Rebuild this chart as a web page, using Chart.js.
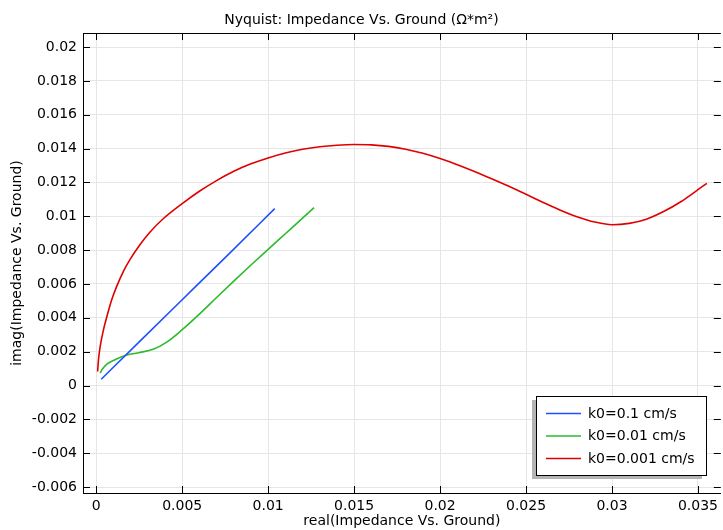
<!DOCTYPE html>
<html>
<head>
<meta charset="utf-8">
<script src="https://cdn.jsdelivr.net/npm/chart.js@4/dist/chart.umd.min.js"></script>
<style>
  html, body { margin: 0; padding: 0; background: #fff; }
  #wrap { width: 723px; height: 530px; position: relative; }
</style>
</head>
<body>
<div id="wrap"><canvas id="c" width="723" height="530"></canvas></div>
<script>
// ---- data ----
const titleText = "Nyquist: Impedance Vs. Ground (Ω*m²)";
const xAxisTitle = "real(Impedance Vs. Ground)";
const yAxisTitle = "imag(Impedance Vs. Ground)";
const seriesLabels = ["k0=0.1 cm/s", "k0=0.01 cm/s", "k0=0.001 cm/s"];

const xTicks = [0, 0.005, 0.01, 0.015, 0.02, 0.025, 0.03, 0.035];
const yTicks = [-0.006, -0.004, -0.002, 0, 0.002, 0.004, 0.006, 0.008, 0.01, 0.012, 0.014, 0.016, 0.018, 0.02];

const blueX = [0.00029, 0.0025, 0.005, 0.0075, 0.01038];
const blueY = [0.00037, 0.00258, 0.00507, 0.00756, 0.01045];

const greenX = [0.00023, 0.00033, 0.00062, 0.0010, 0.00138, 0.00177, 0.00254, 0.00331, 0.00408, 0.005, 0.006, 0.007, 0.008, 0.009, 0.010, 0.011, 0.012, 0.01267];
const greenY = [0.00073, 0.00093, 0.00126, 0.00148, 0.00166, 0.00181, 0.00195, 0.00214, 0.00255, 0.0033, 0.00422, 0.0052, 0.00617, 0.00712, 0.00805, 0.00897, 0.00989, 0.01051];

const redX = [0.00008, 0.00013, 0.00023, 0.00042, 0.00062, 0.0009, 0.00119, 0.00158, 0.00196, 0.00254, 0.00312, 0.00388, 0.005, 0.006, 0.007, 0.008, 0.009, 0.010, 0.011, 0.012, 0.013, 0.014, 0.015, 0.016, 0.017, 0.018, 0.019, 0.020, 0.021, 0.022, 0.023, 0.024, 0.025, 0.026, 0.027, 0.028, 0.029, 0.030, 0.031, 0.032, 0.033, 0.034, 0.035, 0.03552];
const redY = [0.00083, 0.00152, 0.00231, 0.00329, 0.00408, 0.00507, 0.00586, 0.00675, 0.00744, 0.00832, 0.00906, 0.00984, 0.01075, 0.01148, 0.01211, 0.01266, 0.0131, 0.01345, 0.01374, 0.01396, 0.01411, 0.0142, 0.01424, 0.01422, 0.01413, 0.01396, 0.01372, 0.01341, 0.01305, 0.01265, 0.01222, 0.01177, 0.0113, 0.01082, 0.01036, 0.00996, 0.00966, 0.0095, 0.00958, 0.00983, 0.01028, 0.01086, 0.01157, 0.01195];

const colors = ["#1f4fff", "#2bbb2b", "#e00000"];

function pts(xs, ys) { return xs.map((x, i) => ({ x: x, y: ys[i] })); }

const FONT = "'DejaVu Sans', sans-serif";
Chart.defaults.font.family = FONT;
Chart.defaults.font.size = 14;
Chart.defaults.color = '#000';

const frameTicks = {
  id: 'frameTicks',
  afterDraw(chart) {
    const ctx = chart.ctx, a = chart.chartArea;
    const xs = chart.scales.x, ys = chart.scales.y;
    ctx.save();
    ctx.strokeStyle = '#000';
    ctx.lineWidth = 1;
    ctx.beginPath();
    ctx.moveTo(a.left, a.top + 0.5);
    ctx.lineTo(a.right, a.top + 0.5);
    ctx.stroke();
    const L = 7;
    ctx.beginPath();
    xTicks.forEach(v => {
      const px = Math.round(xs.getPixelForValue(v)) + 0.5;
      ctx.moveTo(px, a.bottom); ctx.lineTo(px, a.bottom - L);
      ctx.moveTo(px, a.top); ctx.lineTo(px, a.top + L);
    });
    yTicks.forEach(v => {
      const py = Math.round(ys.getPixelForValue(v)) + 0.5;
      ctx.moveTo(a.left, py); ctx.lineTo(a.left + L, py);
      ctx.moveTo(a.right, py); ctx.lineTo(a.right - L, py);
    });
    ctx.stroke();

    // legend
    const bx = 536, by = 396, bw = 170, bh = 79;
    ctx.fillStyle = '#b4b4b4';
    ctx.fillRect(bx - 4, by + 4, bw, bh);
    ctx.fillStyle = '#fff';
    ctx.fillRect(bx, by, bw, bh);
    ctx.strokeStyle = '#000';
    ctx.strokeRect(bx + 0.5, by + 0.5, bw, bh);
    ctx.font = "14px " + FONT;
    ctx.textBaseline = 'middle';
    ctx.textAlign = 'left';
    chart.data.datasets.forEach((ds, i) => {
      const ly = by + 17.5 + i * 22.5;
      ctx.strokeStyle = ds.borderColor;
      ctx.lineWidth = 1.6;
      ctx.beginPath();
      ctx.moveTo(546, ly); ctx.lineTo(581, ly);
      ctx.stroke();
      ctx.fillStyle = '#000';
      ctx.fillText(ds.label, 588, ly + 0.5);
    });
    ctx.restore();
  }
};

const fmt = v => String(Math.round(v * 1e6) / 1e6);
const tickFont = { family: FONT, size: 14, weight: 'normal' };

new Chart(document.getElementById('c'), {
  type: 'scatter',
  data: {
    datasets: [
      { label: seriesLabels[0], data: pts(blueX, blueY), borderColor: colors[0] },
      { label: seriesLabels[1], data: pts(greenX, greenY), borderColor: colors[1] },
      { label: seriesLabels[2], data: pts(redX, redY), borderColor: colors[2] }
    ].map(d => Object.assign(d, {
      showLine: true, pointRadius: 0, borderWidth: 1.6, fill: false,
      cubicInterpolationMode: 'monotone', backgroundColor: d.borderColor
    }))
  },
  options: {
    responsive: false,
    animation: false,
    devicePixelRatio: 1,
    layout: { padding: { left: 0, right: 0, top: 0, bottom: 0 } },
    plugins: {
      legend: { display: false },
      tooltip: { enabled: false },
      title: {
        display: true, text: titleText, color: '#000',
        font: { family: FONT, size: 14, weight: 'normal' },
        padding: { top: 11.5, bottom: 4.7 }
      }
    },
    scales: {
      x: {
        type: 'linear', min: -0.00077, max: 0.03633,
        afterBuildTicks: s => { s.ticks = xTicks.map(v => ({ value: v })); },
        afterFit: s => { s.height = 37; },
        grid: { color: '#e6e6e6', drawTicks: false, lineWidth: 1 },
        border: { display: true, color: '#000', width: 1 },
        ticks: { color: '#000', font: tickFont, padding: 5, maxRotation: 0, autoSkip: false, callback: fmt },
        title: { display: true, text: xAxisTitle, color: '#000', font: tickFont, padding: { top: 0, bottom: 0.5 } }
      },
      y: {
        type: 'linear', min: -0.00635, max: 0.02083,
        afterBuildTicks: s => { s.ticks = yTicks.map(v => ({ value: v })); },
        afterFit: s => { s.width = 83; },
        grid: { color: '#e6e6e6', drawTicks: false, lineWidth: 1 },
        border: { display: true, color: '#000', width: 1 },
        ticks: { color: '#000', font: tickFont, padding: 6, autoSkip: false, callback: fmt },
        title: { display: true, text: yAxisTitle, color: '#000', font: tickFont, padding: { top: 9, bottom: 0 } }
      }
    }
  },
  plugins: [frameTicks]
});
</script>
</body>
</html>
